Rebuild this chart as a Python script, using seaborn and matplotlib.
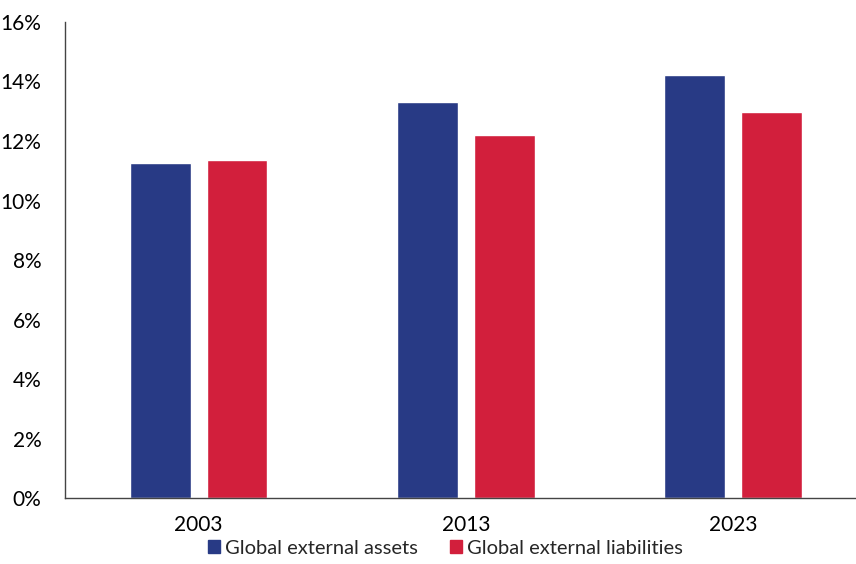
import pandas as pd
import matplotlib.pyplot as plt
import seaborn as sns
from matplotlib.patches import Patch
from matplotlib.ticker import FuncFormatter

# Values (% of world GDP)
years = ["2003", "2013", "2023"]
series = ["Global external assets", "Global external liabilities"]
assets = [11.26, 13.32, 14.22]
liabilities = [11.37, 12.21, 12.96]
colors = ["#283A85", "#D21F3C"]

df = pd.DataFrame({
    "year": years * 2,
    "series": [series[0]] * 3 + [series[1]] * 3,
    "value": assets + liabilities,
})

sns.set_style("white")
plt.rcParams["font.family"] = ["Lato", "DejaVu Sans"]

fig = plt.figure(figsize=(8.56, 5.64), dpi=100)
ax = fig.add_axes([0.076, 0.117, 0.924, 0.844])

sns.barplot(data=df, x="year", y="value", hue="series", palette=colors,
            width=0.575, gap=0.21, saturation=1, ax=ax, legend=False)

ax.set_ylim(0, 16)
ax.set_yticks(range(0, 17, 2))
ax.yaxis.set_major_formatter(FuncFormatter(lambda v, p: f"{v:.0f}%"))
ax.set_xlim(-0.5, 2.46)
ax.set_xlabel("")
ax.set_ylabel("")
ax.tick_params(axis="both", length=0, labelsize=15, colors="black")
ax.tick_params(axis="y", pad=17)
ax.tick_params(axis="x", pad=12)

for s in ["top", "right"]:
    ax.spines[s].set_visible(False)
for s in ["left", "bottom"]:
    ax.spines[s].set_color("#444444")
    ax.spines[s].set_linewidth(1)

handles = [Patch(color=c, label=l) for c, l in zip(colors, series)]
fig.legend(handles=handles, loc="center", bbox_to_anchor=(0.52, 0.028),
           ncol=2, frameon=False, fontsize=14.5, handlelength=0.6, handleheight=0.6,
           handletextpad=0.25, columnspacing=1.6, borderpad=0.2)

fig.savefig("out.png", dpi=100)
